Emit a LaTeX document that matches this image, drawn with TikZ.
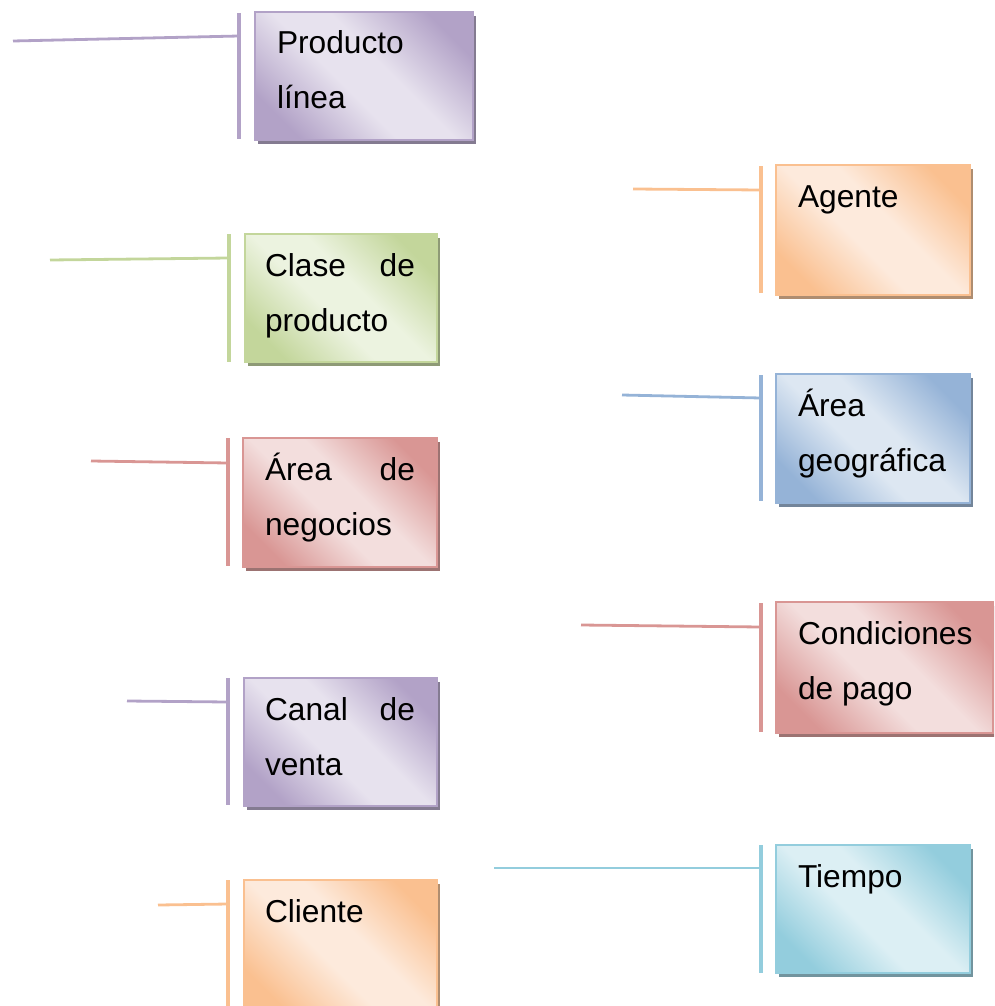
\documentclass[tikz,border=0pt]{standalone}
\usepackage{fontspec}
\setmainfont{Liberation Sans}
\usetikzlibrary{shadows}
\definecolor{purpD}{HTML}{B2A2C7}\definecolor{purpL}{HTML}{E7E2EE}
\definecolor{greenD}{HTML}{C3D69B}\definecolor{greenL}{HTML}{ECF3E0}
\definecolor{redD}{HTML}{D99694}\definecolor{redL}{HTML}{F3DEDD}
\definecolor{orD}{HTML}{FAC090}\definecolor{orL}{HTML}{FDEADC}
\definecolor{bluD}{HTML}{95B3D7}\definecolor{bluL}{HTML}{DDE7F2}
\definecolor{cyD}{HTML}{93CDDD}\definecolor{cyL}{HTML}{DCEFF4}
\newcommand\mkshade[1]{%
  \pgfdeclarehorizontalshading{#1sh}{100bp}{color(0bp)=(#1D); color(24bp)=(#1D); color(44bp)=(#1L); color(56bp)=(#1L); color(76bp)=(#1D); color(100bp)=(#1D)}}
\mkshade{purp}\mkshade{green}\mkshade{red}\mkshade{or}\mkshade{blu}\mkshade{cy}
\tikzset{
  card/.style={draw=#1D, line width=1.4pt, shading=#1sh, shading angle=45,
    drop shadow={shadow xshift=3pt, shadow yshift=-4pt, fill=#1D!75!black!80!gray, opacity=1},
    inner sep=0pt, outer sep=0pt, anchor=north west},
  lbl/.style={anchor=north west, inner sep=0pt, outer sep=0pt, align=justify,
    font={\fontsize{31.7pt}{55pt}\selectfont\hyphenpenalty=10000\exhyphenpenalty=10000}},
  barline/.style={draw=#1D, line width=3.2pt},
  conn/.style={draw=#1D, line width=2.8pt},
}
\begin{document}
\begin{tikzpicture}[x=1pt,y=-1pt]
\useasboundingbox (0,0) rectangle (994,1006);
\clip (0,0) rectangle (994,1006);
% 1 Producto linea
\node[card=purp, minimum width=218pt, minimum height=128pt] (b1) at (255,12) {};
\node[lbl, text width=176pt] (t1) at ([shift={(22,3.5)}]b1.north west) {\strut Producto línea};
\coordinate (b1t) at (239,13); \coordinate (b1b) at (239,139);
\coordinate (l1) at (13,41); \coordinate (j1) at (239,36);
\path[barline=purp] (b1t) -- (b1b);
\path[conn=purp] (l1) -- (j1);
% 2 Clase de producto
\node[card=green, minimum width=192pt, minimum height=128pt] (b2) at (245,234) {};
\node[lbl, text width=150pt] (t2) at ([shift={(20,3.5)}]b2.north west) {\strut Clase de producto};
\coordinate (b2t) at (229,234); \coordinate (b2b) at (229,362);
\coordinate (l2) at (50,260); \coordinate (j2) at (229,258);
\path[barline=green] (b2t) -- (b2b);
\path[conn=green] (l2) -- (j2);
% 3 Area de negocios
\node[card=red, minimum width=194pt, minimum height=129pt] (b3) at (243,438) {};
\node[lbl, text width=150pt] (t3) at ([shift={(22,3.5)}]b3.north west) {\strut Área de negocios};
\coordinate (b3t) at (228,438); \coordinate (b3b) at (228,566);
\coordinate (l3) at (91,461); \coordinate (j3) at (228,463);
\path[barline=red] (b3t) -- (b3b);
\path[conn=red] (l3) -- (j3);
% 4 Canal de venta
\node[card=purp, minimum width=193pt, minimum height=128pt] (b4) at (244,678) {};
\node[lbl, text width=150pt] (t4) at ([shift={(21,3.5)}]b4.north west) {\strut Canal de venta};
\coordinate (b4t) at (228,678); \coordinate (b4b) at (228,805);
\coordinate (l4) at (127,701); \coordinate (j4) at (228,702);
\path[barline=purp] (b4t) -- (b4b);
\path[conn=purp] (l4) -- (j4);
% 5 Cliente
\node[card=or, minimum width=193pt, minimum height=132pt] (b5) at (244,880) {};
\node[lbl, text width=150pt] (t5) at ([shift={(21,3.5)}]b5.north west) {\strut Cliente};
\coordinate (b5t) at (228,880); \coordinate (b5b) at (228,1010);
\coordinate (l5) at (158,905); \coordinate (j5) at (228,904);
\path[barline=or] (b5t) -- (b5b);
\path[conn=or] (l5) -- (j5);
% 6 Agente
\node[card=or, minimum width=194pt, minimum height=130pt] (b6) at (776,165) {};
\node[lbl, text width=150pt] (t6) at ([shift={(22,3.5)}]b6.north west) {\strut Agente};
\coordinate (b6t) at (761,166); \coordinate (b6b) at (761,293);
\coordinate (l6) at (633,189); \coordinate (j6) at (761,190);
\path[barline=or] (b6t) -- (b6b);
\path[conn=or] (l6) -- (j6);
% 7 Area geografica
\node[card=blu, minimum width=194pt, minimum height=129pt] (b7) at (776,374) {};
\node[lbl, text width=150pt] (t7) at ([shift={(22,3.5)}]b7.north west) {\strut Área geográfica};
\coordinate (b7t) at (761,375); \coordinate (b7b) at (761,501);
\coordinate (l7) at (622,395); \coordinate (j7) at (761,398);
\path[barline=blu] (b7t) -- (b7b);
\path[conn=blu] (l7) -- (j7);
% 8 Condiciones de pago
\node[card=red, minimum width=217pt, minimum height=131pt] (b8) at (776,602) {};
\node[lbl, text width=178pt] (t8) at ([shift={(22,3.5)}]b8.north west) {\strut Condiciones de pago};
\coordinate (b8t) at (761,603); \coordinate (b8b) at (761,732);
\coordinate (l8) at (581,625); \coordinate (j8) at (761,627);
\path[barline=red] (b8t) -- (b8b);
\path[conn=red] (l8) -- (j8);
% 9 Tiempo
\node[card=cy, minimum width=194pt, minimum height=128pt] (b9) at (776,845) {};
\node[lbl, text width=150pt] (t9) at ([shift={(22,3.5)}]b9.north west) {\strut Tiempo};
\coordinate (b9t) at (761,845); \coordinate (b9b) at (761,973);
\coordinate (l9) at (494,868); \coordinate (j9) at (761,868);
\path[barline=cy] (b9t) -- (b9b);
\path[conn=cy] (l9) -- (j9);
\end{tikzpicture}
\end{document}
